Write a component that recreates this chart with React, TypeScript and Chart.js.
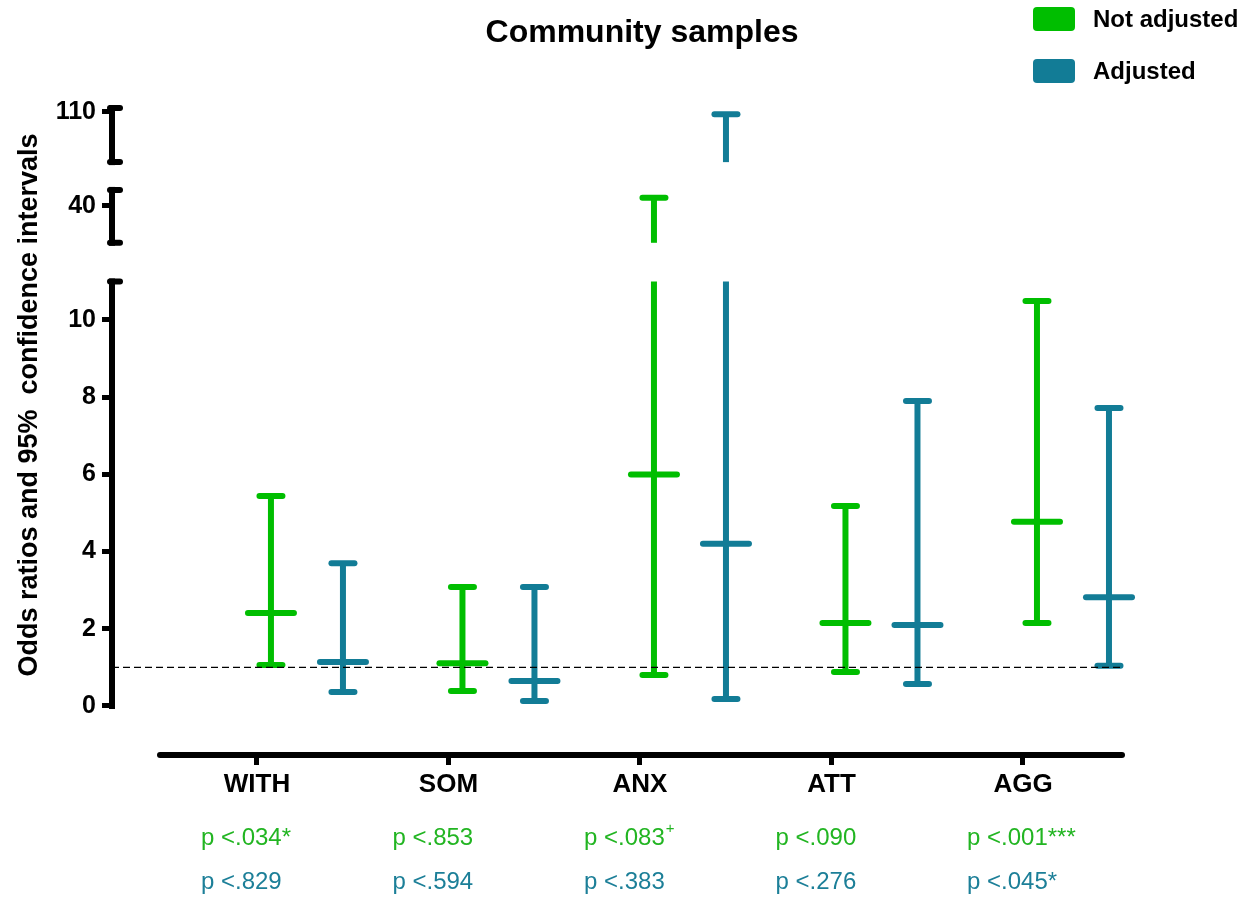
import React, { useEffect, useRef } from 'react';
import { Chart, registerables } from 'chart.js';

Chart.register(...registerables);

// ---------- data ----------
const categories = ['WITH', 'SOM', 'ANX', 'ATT', 'AGG'];

const notAdjMedian = [2.41, 1.11, 6.0, 2.15, 4.77];
const notAdjLow = [1.06, 0.39, 0.8, 0.88, 2.15];
const notAdjHigh = [5.44, 3.08, 43, 5.18, 10.49];

const adjMedian = [1.14, 0.65, 4.2, 2.1, 2.82];
const adjLow = [0.36, 0.13, 0.18, 0.57, 1.04];
const adjHigh = [3.7, 3.08, 108, 7.9, 7.72];

const pNotAdj = ['p <.034*', 'p <.853', 'p <.083+', 'p <.090', 'p <.001***'];
const pAdj = ['p <.829', 'p <.594', 'p <.383', 'p <.276', 'p <.045*'];

const yTickValues = [0, 2, 4, 6, 8, 10, 40, 110];
const refValue = 1;

// ---------- broken axis ----------
const BREAKS = [
  { lo: 0, hi: 11, d0: 0, d1: 11 },
  { lo: 26, hi: 46, d0: 12, d1: 13.37 },
  { lo: 70, hi: 113, d0: 14.09, d1: 15.49 },
];
function segIndex(v: number) {
  for (let k = BREAKS.length - 1; k >= 0; k--) if (v >= BREAKS[k].lo) return k;
  return 0;
}
function toDisp(v: number) {
  const s = BREAKS[segIndex(v)];
  return s.d0 + ((Math.min(v, s.hi) - s.lo) / (s.hi - s.lo)) * (s.d1 - s.d0);
}

const GREEN = '#00BE00';
const TEAL = '#127C96';
const GREEN_TXT = '#22B522';
const TEAL_TXT = '#1C7F98';
const FONT = '"Liberation Sans", Arial, sans-serif';

function barPieces(lows: number[], highs: number[], off: number) {
  const main: any[] = [];
  const upper: any[] = [];
  lows.forEach((lo, i) => {
    const hi = highs[i];
    const a = segIndex(lo);
    const b = segIndex(hi);
    if (a === b) main.push({ x: i + off, y: [toDisp(lo), toDisp(hi)] });
    else {
      main.push({ x: i + off, y: [toDisp(lo), BREAKS[a].d1] });
      upper.push({ x: i + off, y: [BREAKS[b].d0, toDisp(hi)] });
    }
  });
  return { main, upper };
}

const series = [
  { label: 'Not adjusted', color: GREEN, low: notAdjLow, high: notAdjHigh, med: notAdjMedian, off: 0.073 },
  { label: 'Adjusted', color: TEAL, low: adjLow, high: adjHigh, med: adjMedian, off: 0.449 },
];

function buildDatasets() {
  const ds: any[] = [];
  series.forEach((s) => {
    const p = barPieces(s.low, s.high, s.off);
    [p.main, p.upper].forEach((d) =>
      ds.push({
        type: 'bar',
        label: s.label,
        data: d,
        grouped: false,
        maxBarThickness: 6,
        backgroundColor: s.color,
        borderWidth: 0,
        clip: false,
        order: 3,
      })
    );
    ds.push({
      type: 'scatter',
      label: s.label + ' CI',
      data: [...s.low, ...s.high].map((v, k) => ({ x: (k % s.low.length) + s.off, y: toDisp(v) })),
      pointStyle: 'line',
      pointRadius: 11.5,
      pointBorderWidth: 6,
      pointBorderColor: s.color,
      pointBackgroundColor: s.color,
      clip: false,
      order: 2,
    });
    ds.push({
      type: 'scatter',
      label: s.label + ' OR',
      data: s.med.map((v, i) => ({ x: i + s.off, y: toDisp(v) })),
      pointStyle: 'line',
      pointRadius: 23,
      pointBorderWidth: 6,
      pointBorderColor: s.color,
      pointBackgroundColor: s.color,
      clip: false,
      order: 2,
    });
  });
  ds.push({
    type: 'line',
    label: 'ref',
    data: [
      { x: -0.757, y: toDisp(refValue) },
      { x: 4.517, y: toDisp(refValue) },
    ],
    borderColor: '#000',
    borderWidth: 1.4,
    borderDash: [7, 4],
    pointRadius: 0,
    fill: false,
    order: 1,
  });
  return ds;
}

const decorPlugin = {
  id: 'decor',
  beforeDatasetsDraw(chart: any) {
    chart.ctx.lineCap = 'round';
  },
  afterDatasetsDraw(chart: any) {
    chart.ctx.lineCap = 'butt';
  },
  afterDraw(chart: any) {
    const ctx = chart.ctx;
    const y = chart.scales.y;
    const x = chart.scales.x;
    const axX = chart.chartArea.left;
    ctx.save();
    // broken y-axis
    ctx.strokeStyle = '#000';
    ctx.lineWidth = 6;
    ctx.lineCap = 'butt';
    BREAKS.forEach((s) => {
      const yb = y.getPixelForValue(s.d0);
      const yt = y.getPixelForValue(s.d1);
      ctx.beginPath();
      ctx.moveTo(axX, yb + 3);
      ctx.lineTo(axX, yt - 3);
      ctx.stroke();
    });
    ctx.lineCap = 'round';
    ctx.lineWidth = 6;
    BREAKS.forEach((s, k) => {
      const ends = k === 0 ? [s.d1] : [s.d0, s.d1];
      ends.forEach((d) => {
        const py = y.getPixelForValue(d);
        ctx.beginPath();
        ctx.moveTo(axX - 2, py);
        ctx.lineTo(axX + 8, py);
        ctx.stroke();
      });
    });
    // x axis line
    const bottom = chart.chartArea.bottom;
    ctx.lineWidth = 6;
    ctx.beginPath();
    ctx.moveTo(160, bottom);
    ctx.lineTo(chart.chartArea.right, bottom);
    ctx.stroke();

    // title
    ctx.fillStyle = '#000';
    ctx.textAlign = 'center';
    ctx.textBaseline = 'middle';
    ctx.font = `bold 32px ${FONT}`;
    ctx.fillText('Community samples', 642, 33);

    // y title
    ctx.save();
    ctx.translate(30, 405);
    ctx.rotate(-Math.PI / 2);
    ctx.font = `bold 27px ${FONT}`;
    ctx.fillText('Odds ratios and 95%  confidence intervals', 0, 0);
    ctx.restore();

    // legend
    const legendRows = [
      { label: series[0].label, color: series[0].color, y: 7 },
      { label: series[1].label, color: series[1].color, y: 59 },
    ];
    legendRows.forEach((r) => {
      ctx.fillStyle = r.color;
      ctx.beginPath();
      (ctx as any).roundRect(1033, r.y, 42, 24, 4);
      ctx.fill();
      ctx.fillStyle = '#000';
      ctx.textAlign = 'left';
      ctx.font = `bold 24px ${FONT}`;
      ctx.fillText(r.label, 1093, r.y + 13);
    });

    // p-values
    const rows = [
      { texts: pNotAdj, color: GREEN_TXT, py: 838 },
      { texts: pAdj, color: TEAL_TXT, py: 882 },
    ];
    rows.forEach((r) => {
      r.texts.forEach((t, i) => {
        const px = x.getPixelForValue(i) - 56;
        ctx.fillStyle = r.color;
        ctx.textAlign = 'left';
        ctx.textBaseline = 'middle';
        ctx.font = `24px ${FONT}`;
        let main = t;
        let sup = '';
        if (t.endsWith('+')) {
          main = t.slice(0, -1);
          sup = '+';
        }
        ctx.fillText(main, px, r.py);
        if (sup) {
          const w = ctx.measureText(main).width;
          ctx.font = `15px ${FONT}`;
          ctx.fillText(sup, px + w + 1, r.py - 9);
        }
      });
    });
    ctx.restore();
  },
};

export default function App() {
  const ref = useRef<HTMLCanvasElement | null>(null);
  useEffect(() => {
    if (!ref.current) return;
    const chart = new Chart(ref.current, {
      type: 'scatter',
      data: { datasets: buildDatasets() },
      options: {
        animation: false,
        responsive: false,
        events: [],
        layout: { padding: { top: 88.4, right: 133, bottom: 0, left: 0 } },
        plugins: { legend: { display: false }, tooltip: { enabled: false }, title: { display: false } },
        scales: {
          x: {
            type: 'linear',
            min: -0.757,
            max: 4.517,
            offset: false,
            afterFit: (scale: any) => {
              scale.height = 142;
            },
            afterBuildTicks: (scale: any) => {
              scale.ticks = categories.map((_, i) => ({ value: i }));
            },
            border: { display: false },
            grid: {
              offset: false,
              drawOnChartArea: false,
              drawTicks: true,
              tickLength: 10,
              tickWidth: 5,
              tickColor: '#000',
            },
            ticks: {
              autoSkip: false,
              maxRotation: 0,
              padding: 4,
              color: '#000',
              font: { family: FONT, size: 26, weight: 'bold' },
              callback: (v: any) => categories[Math.round(Number(v))] ?? '',
            },
          },
          y: {
            type: 'linear',
            min: -1.27,
            max: 16.0,
            afterFit: (scale: any) => {
              scale.width = 112;
            },
            afterBuildTicks: (scale: any) => {
              scale.ticks = yTickValues.map((v) => ({ value: toDisp(v) }));
            },
            border: { display: false },
            grid: {
              drawOnChartArea: false,
              drawTicks: true,
              tickLength: 10,
              tickWidth: 5,
              tickColor: '#000',
            },
            ticks: {
              autoSkip: false,
              padding: 6,
              color: '#000',
              font: { family: FONT, size: 25, weight: 'bold' },
              callback: (v: any) => {
                const idx = yTickValues.findIndex((t) => Math.abs(toDisp(t) - Number(v)) < 1e-6);
                return idx >= 0 ? String(yTickValues[idx]) : '';
              },
            },
          },
        },
      },
      plugins: [decorPlugin],
    } as any);
    return () => chart.destroy();
  }, []);
  return (
    <div style={{ position: 'absolute', left: 0, top: 0, width: 1255, height: 897, background: '#fff' }}>
      <canvas ref={ref} width={1255} height={897} style={{ display: 'block' }} />
    </div>
  );
}
